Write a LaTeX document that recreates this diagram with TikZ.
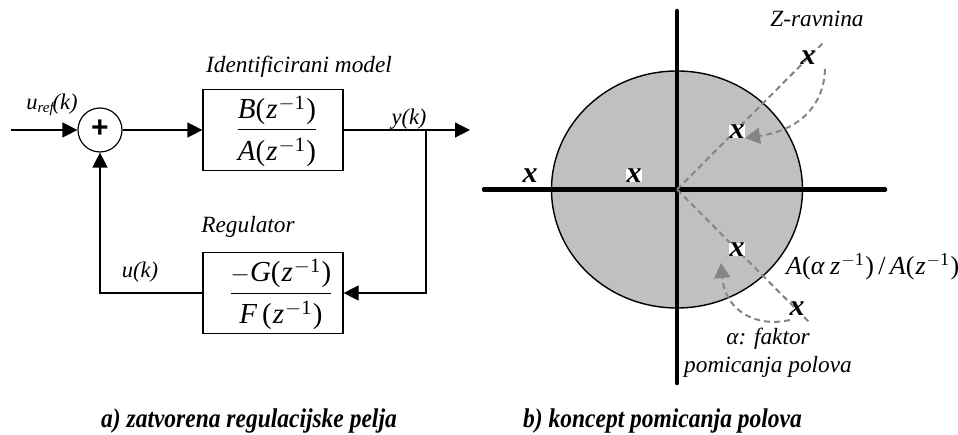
\documentclass[tikz,border=0pt]{standalone}
\usepackage{amsmath}
\usepackage{fontspec}
\setmainfont{Liberation Serif}
\newfontfamily\capfont[FakeStretch=0.87]{Liberation Serif}
\newfontfamily\plusfont{Liberation Sans}
\usetikzlibrary{arrows.meta, positioning, calc}
\definecolor{kdisc}{HTML}{C0C0C0}
\definecolor{kdash}{HTML}{858585}

\newcommand{\zinv}{\kern1pt\textit{z}\kern1pt\textsuperscript{$-$1}\kern1pt}
\newcommand{\fracbar}[3]{\hspace{#1}$\dfrac{\mbox{\rule[-8pt]{0pt}{36pt}#2}}{\mbox{\rule[-9pt]{0pt}{36pt}#3}}$}

\tikzset{
  blockbox/.style={draw, line width=1.2pt, minimum width=140pt, minimum height=81pt, inner sep=0pt, font=\fontsize{29}{32}\selectfont},
  sumnode/.style={draw, circle, line width=1.2pt, minimum size=44pt, inner sep=0pt, font=\fontsize{30}{30}\plusfont},
  wire/.style={line width=1.2pt},
  arrowwire/.style={wire, -{Triangle[length=15pt,width=15pt]}},
  lbl/.style={font=\fontsize{23.3}{26}\selectfont\itshape, inner sep=0pt},
  sig/.style={font=\fontsize{22.5}{24}\selectfont\itshape, inner sep=0pt, anchor=base},
  axisline/.style={line width=4.5pt, line cap=round},
  rayline/.style={draw=kdash, line width=2pt, dash pattern=on 6pt off 4pt},
  movearrow/.style={rayline, -{Triangle[length=15pt,width=16pt,fill=kdash,sep=0pt]}},
  pole/.style={font=\fontsize{30}{30}\selectfont\bfseries\itshape, inner sep=0pt},
  polew/.style={pole, fill=white, minimum width=16pt, minimum height=13pt, text height=13pt, text depth=0pt},
  caption/.style={font=\fontsize{27}{30}\capfont\bfseries\itshape, inner sep=0pt, anchor=base west}
}

\begin{document}
\begin{tikzpicture}[x=1pt, y=-1pt]
  \useasboundingbox (0,0) rectangle (958,435);

  %% Loop
  \node[sumnode] (sum) at (100,130) {\raisebox{2pt}{\bfseries +}};
  \node[blockbox] (model) at (273,130) {\fracbar{8pt}{\textit{B}(\zinv)}{\textit{A}(\zinv)}};
  \node[blockbox] (reg) at (273,293) {\fracbar{16pt}{$-$\textit{G}(\zinv)}{\textit{F}\,(\zinv)}};

  \coordinate (in) at (11,130);
  \coordinate (out) at (470,130);
  \coordinate (branch) at (426,130);
  \coordinate (corner) at (426,293);
  \coordinate (back) at (100,293);

  \draw[arrowwire] (in) -- (sum.west);
  \draw[arrowwire] (sum.east) -- (model.west);
  \draw[arrowwire] (model.east) -- (out);
  \draw[arrowwire] (branch) -- (corner) -- (reg.east);
  \draw[arrowwire] (reg.west) -- (back) -- (sum.south);

  \node[lbl] (modeltitle) at (299,67) {Identificirani model};
  \node[lbl] (regtitle) at (248,227) {Regulator};
  \node[sig] (uref) at (52,110) {u\raisebox{-3pt}{\fontsize{15}{15}\selectfont ref}\kern-1pt(k)};
  \node[sig] (yk) at (409,125) {y(k)};
  \node[sig] (uk) at (140,278) {u(k)};

  %% Z plane
  \coordinate (origin) at (677,189.5);
  \fill[kdisc] (origin) ellipse (125.5 and 118.5);
  \draw[line width=1.4pt] (origin) ellipse (125.5 and 118.5);
  \coordinate (axisw) at (484,189.5);
  \coordinate (axise) at (885,189.5);
  \coordinate (axisn) at (677,11);
  \coordinate (axiss) at (677,383);
  \draw[axisline] (axisw) -- (axise);
  \draw[axisline] (axisn) -- (axiss);

  \coordinate (rayup) at (825,41);
  \coordinate (raydown) at (810,323);
  \draw[rayline] (origin) -- (rayup);
  \draw[rayline] (origin) -- (raydown);

  \node[pole] (polea) at (808,58) {x};
  \node[polew] (poleb) at (737,132) {x};
  \node[polew] (polec) at (634,176) {x};
  \node[pole] (poled) at (530,176) {x};
  \node[polew] (polee) at (737,250) {x};
  \node[pole] (polef) at (797,309) {x};

  \coordinate (moveup) at (825,69);
  \coordinate (movedown) at (790,320);
  \draw[movearrow] (moveup) .. controls (824,105) and (800,130) .. (745,138);
  \draw[movearrow] (movedown) .. controls (755,328) and (725,310) .. (721,263);

  \node[lbl] (plane) at (817,19) {Z-ravnina};
  \node[lbl] (alpha) at (768,339) {α: faktor};
  \node[lbl] (alphab) at (768,367) {pomicanja polova};
  \node[font=\fontsize{26}{28}\selectfont, inner sep=0pt, anchor=base west] (ratio) at (786,275)
    {\textit{A}(\textit{α}\,\zinv)\,/\,\textit{A}(\zinv)};

  %% Captions
  \node[caption] (capa) at (101,427) {a) zatvorena regulacijske pelja};
  \node[caption] (capb) at (523,427) {b) koncept pomicanja polova};

\end{tikzpicture}
\end{document}
